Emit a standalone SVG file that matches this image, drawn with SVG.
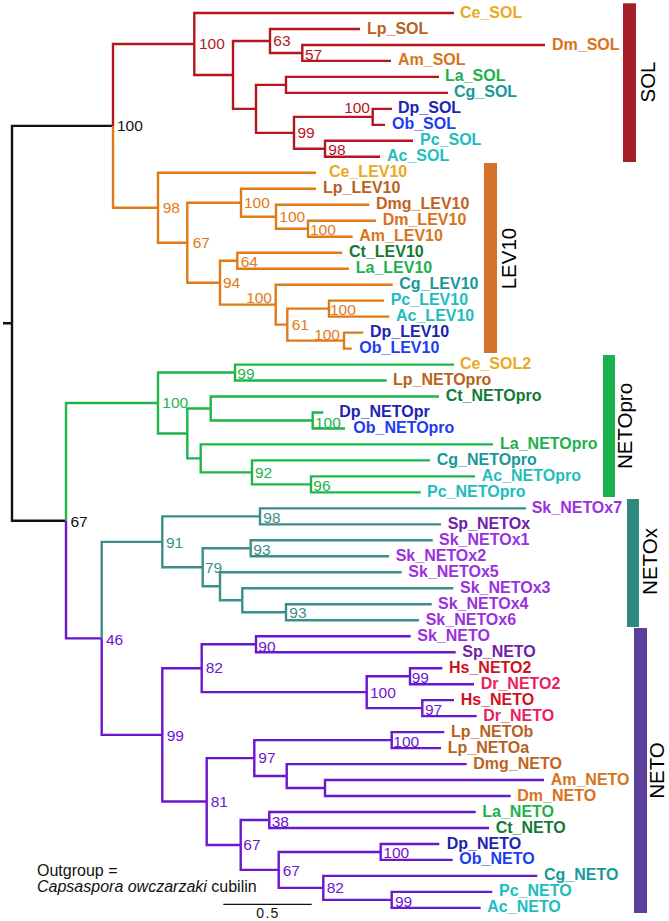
<svg xmlns="http://www.w3.org/2000/svg" width="669" height="921" viewBox="0 0 669 921">
<style>
.e{fill:none;stroke-width:2.4;stroke-linejoin:miter}
.k{stroke:#111}.r{stroke:#B5161E}.o{stroke:#E07A18}.g{stroke:#20B54A}.t{stroke:#3A9088}.p{stroke:#6B16CF}
.lf{font-family:"Liberation Sans",Arial,sans-serif;font-size:16px;font-weight:bold}
.bs{font-family:"Liberation Sans",Arial,sans-serif;font-size:15.5px}
.bk{fill:#111}.br{fill:#B5161E}.bo{fill:#E07A18}.bg{fill:#20B54A}.bt{fill:#3A9088}.bp{fill:#6B16CF}
.cl{font-family:"Liberation Sans",Arial,sans-serif;font-size:20.5px;fill:#000;text-anchor:middle}
.Ce{fill:#EBA91E}.Lp{fill:#B8621C}.Dm{fill:#D8711A}.Am{fill:#D8731A}.Dmg{fill:#C0641C}.La{fill:#1DB14B}
.Cg{fill:#17999A}.Dp{fill:#1B24B5}.Ob{fill:#1C3DF2}.Pc{fill:#20BCC0}.Ac{fill:#1FBDBD}.Ct{fill:#127A33}
.Sk{fill:#9B30E0}.Sp{fill:#6E22AA}.Hs{fill:#D0121F}.Dr{fill:#E91E63}
.tx{font-family:"Liberation Sans",Arial,sans-serif;font-size:16px;fill:#111}
</style>
<g id="connectors">
<path class="e k" d="M3 323.3H12M12 323.3V125.9H113M12 323.3V520.7H66"/>
<g class="e r">
<path d="M113 125.9V44H194.3"/>
<path d="M194.3 44V13H454M194.3 44V75H233"/>
<path d="M233 75V41H270M233 75V108.9H256"/>
<path d="M270 41V29H360M270 41V53H302.3"/>
<path d="M302.3 53V45H545M302.3 53V60.9H391"/>
<path d="M256 108.9V84.9H286M256 108.9V132.85H294"/>
<path d="M286 84.9V76.9H439M286 84.9V92.9H448"/>
<path d="M294 132.85V116.9H372.7M294 132.85V148.8H325"/>
<path d="M372.7 116.9V108.9H392M372.7 116.9V124.9H385"/>
<path d="M325 148.8V140.8H413M325 148.8V156.8H380"/>
</g>
<g class="e o">
<path d="M113 125.9V207.8H158"/>
<path d="M158 207.8V172.8H316M158 207.8V242.75H187.3"/>
<path d="M187.3 242.75V202.8H241M187.3 242.75V282.7H220"/>
<path d="M241 202.8V188.8H316M241 202.8V216.75H276"/>
<path d="M276 216.75V204.8H369.3M276 216.75V228.7H308"/>
<path d="M308 228.7V220.7H376M308 228.7V236.7H352.7"/>
<path d="M220 282.7V260.7H237.3M220 282.7V304.65H275.7"/>
<path d="M237.3 260.7V252.7H342.3M237.3 260.7V268.7H349"/>
<path d="M275.7 304.65V284.7H392.7M275.7 304.65V324.6H287.3"/>
<path d="M287.3 324.6V308.6H329M287.3 324.6V340.6H344"/>
<path d="M329 308.6V300.6H384M329 308.6V316.6H389.3"/>
<path d="M344 340.6V332.6H363.3M344 340.6V348.6H351.7"/>
</g>
<g class="e g">
<path d="M66 520.7V403H158"/>
<path d="M158 403V372.55H235M158 403V433.45H187.3"/>
<path d="M235 372.55V364.6H454M235 372.55V380.5H386.7"/>
<path d="M187.3 433.45V408.5H210.7M187.3 433.45V458.4H200.7"/>
<path d="M210.7 408.5V396.5H439M210.7 408.5V420.5H312.7"/>
<path d="M312.7 420.5V412.5H323.3M312.7 420.5V428.5H345"/>
<path d="M200.7 458.4V444.4H493M200.7 458.4V472.4H252"/>
<path d="M252 472.4V460.4H430M252 472.4V484.4H311"/>
<path d="M311 484.4V476.4H475M311 484.4V492.4H420.7"/>
</g>
<g class="e p">
<path d="M66 520.7V638.35H101.7"/>
</g>
<g class="e t">
<path d="M101.7 638.35V541.85H162.3"/>
<path d="M162.3 541.85V516.4H260M162.3 541.85V567.3H202.7"/>
<path d="M260 516.4V508.4H526M260 516.4V524.4H441"/>
<path d="M202.7 567.3V548.3H250.7M202.7 567.3V586.3H220"/>
<path d="M250.7 548.3V540.3H432.7M250.7 548.3V556.3H389"/>
<path d="M220 586.3V572.3H401.7M220 586.3V600.3H242.3"/>
<path d="M242.3 600.3V588.3H453.3M242.3 600.3V612.25H286"/>
<path d="M286 612.25V604.3H431.7M286 612.25V620.2H419"/>
</g>
<g class="e p">
<path d="M101.7 638.35V734.85H162.3"/>
<path d="M162.3 734.85V668.2H201.7M162.3 734.85V801.5H206.7"/>
<path d="M201.7 668.2V644.2H256M201.7 668.2V692.15H366.7"/>
<path d="M256 644.2V636.2H410.7M256 644.2V652.2H455.7"/>
<path d="M366.7 692.15V676.2H410M366.7 692.15V708.1H422.3"/>
<path d="M410 676.2V668.2H442.3M410 676.2V684.2H474"/>
<path d="M422.3 708.1V700.1H454M422.3 708.1V716.1H476.7"/>
<path d="M206.7 801.5V758.1H254.3M206.7 801.5V844.95H240.7"/>
<path d="M254.3 758.1V740.1H391.7M254.3 758.1V776.05H286.7"/>
<path d="M391.7 740.1V732.1H444.3M391.7 740.1V748.1H441"/>
<path d="M286.7 776.05V764.1H466.7M286.7 776.05V788H325"/>
<path d="M325 788V780H544M325 788V796H510.7"/>
<path d="M240.7 844.95V820H269.3M240.7 844.95V869.9H278.7"/>
<path d="M269.3 820V812H475.7M269.3 820V828H489"/>
<path d="M278.7 869.9V851.95H380.7M278.7 869.9V887.9H323.3"/>
<path d="M380.7 851.95V844H439.3M380.7 851.95V859.9H452.7"/>
<path d="M323.3 887.9V875.9H537.3M323.3 887.9V899.9H391.7"/>
<path d="M391.7 899.9V891.9H492.3M391.7 899.9V907.9H480.7"/>
</g>
</g>
<g id="support" class="bs">
<text class="bk" x="117" y="131">100</text>
<text class="bk" x="70.5" y="526.5">67</text>
<text class="br" x="199" y="48.5">100</text>
<text class="br" x="273.3" y="46">63</text>
<text class="br" x="305" y="60">57</text>
<text class="br" x="297.5" y="138.3">99</text>
<text class="br" x="328.3" y="155">98</text>
<text class="br" x="370" y="113.3" text-anchor="end">100</text>
<text class="bo" x="162.7" y="213">98</text>
<text class="bo" x="244" y="208">100</text>
<text class="bo" x="279.3" y="221.7">100</text>
<text class="bo" x="310" y="235">100</text>
<text class="bo" x="192.7" y="247.5">67</text>
<text class="bo" x="240.7" y="266.5">64</text>
<text class="bo" x="223" y="288">94</text>
<text class="bo" x="272" y="303" text-anchor="end">100</text>
<text class="bo" x="291.7" y="330">61</text>
<text class="bo" x="330" y="315">100</text>
<text class="bo" x="340" y="340" text-anchor="end">100</text>
<text class="bg" x="162.3" y="408.3">100</text>
<text class="bg" x="237.3" y="379">99</text>
<text class="bg" x="315" y="428.3">100</text>
<text class="bg" x="255" y="477.7">92</text>
<text class="bg" x="313.3" y="491">96</text>
<text class="bt" x="263.3" y="523.3">98</text>
<text class="bt" x="166" y="547.5">91</text>
<text class="bt" x="253.3" y="555">93</text>
<text class="bt" x="205" y="572.7">79</text>
<text class="bt" x="289.3" y="618.3">93</text>
<text class="bp" x="106" y="645">46</text>
<text class="bp" x="258.3" y="651.7">90</text>
<text class="bp" x="205.7" y="673.3">82</text>
<text class="bp" x="411.7" y="683.3">99</text>
<text class="bp" x="370" y="698.3">100</text>
<text class="bp" x="425" y="715">97</text>
<text class="bp" x="166.7" y="740.7">99</text>
<text class="bp" x="393.3" y="746.7">100</text>
<text class="bp" x="258.3" y="763.3">97</text>
<text class="bp" x="210.7" y="807">81</text>
<text class="bp" x="271.7" y="826.7">38</text>
<text class="bp" x="243.3" y="850">67</text>
<text class="bp" x="282.7" y="875.7">67</text>
<text class="bp" x="326.7" y="893.3">82</text>
<text class="bp" x="383.3" y="858.3">100</text>
<text class="bp" x="395" y="906.7">99</text>
</g>
<g id="leaves" class="lf">
<g id="Ce_SOL"><text class="Ce" x="460" y="17.5">Ce_SOL</text></g>
<g id="Lp_SOL"><text class="Lp" x="367" y="33.5">Lp_SOL</text></g>
<g id="Dm_SOL"><text class="Dm" x="552" y="49.5">Dm_SOL</text></g>
<g id="Am_SOL"><text class="Am" x="398" y="65.4">Am_SOL</text></g>
<g id="La_SOL"><text class="La" x="445" y="81.4">La_SOL</text></g>
<g id="Cg_SOL"><text class="Cg" x="454" y="97.4">Cg_SOL</text></g>
<g id="Dp_SOL"><text class="Dp" x="398" y="113.4">Dp_SOL</text></g>
<g id="Ob_SOL"><text class="Ob" x="392" y="129.4">Ob_SOL</text></g>
<g id="Pc_SOL"><text class="Pc" x="420" y="145.3">Pc_SOL</text></g>
<g id="Ac_SOL"><text class="Ac" x="387" y="161.3">Ac_SOL</text></g>
<g id="Ce_LEV10"><text class="Ce" x="329" y="177.3">Ce_LEV10</text></g>
<g id="Lp_LEV10"><text class="Lp" x="323" y="193.3">Lp_LEV10</text></g>
<g id="Dmg_LEV10"><text class="Dmg" x="376" y="209.3">Dmg_LEV10</text></g>
<g id="Dm_LEV10"><text class="Dm" x="382.7" y="225.2">Dm_LEV10</text></g>
<g id="Am_LEV10"><text class="Am" x="359.3" y="241.2">Am_LEV10</text></g>
<g id="Ct_LEV10"><text class="Ct" x="349" y="257.2">Ct_LEV10</text></g>
<g id="La_LEV10"><text class="La" x="355.7" y="273.2">La_LEV10</text></g>
<g id="Cg_LEV10"><text class="Cg" x="399.3" y="289.2">Cg_LEV10</text></g>
<g id="Pc_LEV10"><text class="Pc" x="390.7" y="305.1">Pc_LEV10</text></g>
<g id="Ac_LEV10"><text class="Ac" x="396" y="321.1">Ac_LEV10</text></g>
<g id="Dp_LEV10"><text class="Dp" x="370" y="337.1">Dp_LEV10</text></g>
<g id="Ob_LEV10"><text class="Ob" x="359.3" y="353.1">Ob_LEV10</text></g>
<g id="Ce_SOL2"><text class="Ce" x="460" y="369.1">Ce_SOL2</text></g>
<g id="Lp_NETOpro"><text class="Lp" x="393" y="385">Lp_NETOpro</text></g>
<g id="Ct_NETOpro"><text class="Ct" x="445.7" y="401">Ct_NETOpro</text></g>
<g id="Dp_NETOpr"><text class="Dp" x="339.3" y="417">Dp_NETOpr</text></g>
<g id="Ob_NETOpro"><text class="Ob" x="353.3" y="433">Ob_NETOpro</text></g>
<g id="La_NETOpro"><text class="La" x="500" y="448.9">La_NETOpro</text></g>
<g id="Cg_NETOpro"><text class="Cg" x="436.7" y="464.9">Cg_NETOpro</text></g>
<g id="Ac_NETOpro"><text class="Ac" x="481.7" y="480.9">Ac_NETOpro</text></g>
<g id="Pc_NETOpro"><text class="Pc" x="427" y="496.9">Pc_NETOpro</text></g>
<g id="Sk_NETOx7"><text class="Sk" x="531.7" y="512.9">Sk_NETOx7</text></g>
<g id="Sp_NETOx"><text class="Sp" x="447.7" y="528.9">Sp_NETOx</text></g>
<g id="Sk_NETOx1"><text class="Sk" x="439" y="544.8">Sk_NETOx1</text></g>
<g id="Sk_NETOx2"><text class="Sk" x="395.7" y="560.8">Sk_NETOx2</text></g>
<g id="Sk_NETOx5"><text class="Sk" x="408.3" y="576.8">Sk_NETOx5</text></g>
<g id="Sk_NETOx3"><text class="Sk" x="460" y="592.8">Sk_NETOx3</text></g>
<g id="Sk_NETOx4"><text class="Sk" x="438" y="608.8">Sk_NETOx4</text></g>
<g id="Sk_NETOx6"><text class="Sk" x="425.7" y="624.7">Sk_NETOx6</text></g>
<g id="Sk_NETO"><text class="Sk" x="417.3" y="640.7">Sk_NETO</text></g>
<g id="Sp_NETO"><text class="Sp" x="462.3" y="656.7">Sp_NETO</text></g>
<g id="Hs_NETO2"><text class="Hs" x="449" y="672.7">Hs_NETO2</text></g>
<g id="Dr_NETO2"><text class="Dr" x="480.7" y="688.7">Dr_NETO2</text></g>
<g id="Hs_NETO"><text class="Hs" x="460.7" y="704.6">Hs_NETO</text></g>
<g id="Dr_NETO"><text class="Dr" x="483.3" y="720.6">Dr_NETO</text></g>
<g id="Lp_NETOb"><text class="Lp" x="451" y="736.6">Lp_NETOb</text></g>
<g id="Lp_NETOa"><text class="Lp" x="447.7" y="752.6">Lp_NETOa</text></g>
<g id="Dmg_NETO"><text class="Dmg" x="473.3" y="768.6">Dmg_NETO</text></g>
<g id="Am_NETO"><text class="Am" x="550.7" y="784.5">Am_NETO</text></g>
<g id="Dm_NETO"><text class="Dm" x="517.3" y="800.5">Dm_NETO</text></g>
<g id="La_NETO"><text class="La" x="482.3" y="816.5">La_NETO</text></g>
<g id="Ct_NETO"><text class="Ct" x="495.7" y="832.5">Ct_NETO</text></g>
<g id="Dp_NETO"><text class="Dp" x="446.7" y="848.5">Dp_NETO</text></g>
<g id="Ob_NETO"><text class="Ob" x="459.3" y="864.4">Ob_NETO</text></g>
<g id="Cg_NETO"><text class="Cg" x="544" y="880.4">Cg_NETO</text></g>
<g id="Pc_NETO"><text class="Pc" x="499" y="896.4">Pc_NETO</text></g>
<g id="Ac_NETO"><text class="Ac" x="487.3" y="912.4">Ac_NETO</text></g>
</g>
<g id="clade-SOL"><rect x="623" y="3.3" width="13" height="158.7" fill="#A71E2A"/><text class="cl" transform="translate(654.5,82) rotate(-90)">SOL</text></g>
<g id="clade-LEV10"><rect x="484" y="163" width="13" height="190" fill="#D5722C"/><text class="cl" transform="translate(516.3,258.5) rotate(-90)">LEV10</text></g>
<g id="clade-NETOpro"><rect x="603" y="355" width="12" height="142" fill="#19B24C"/><text class="cl" transform="translate(632,426) rotate(-90)">NETOpro</text></g>
<g id="clade-NETOx"><rect x="627" y="499" width="12" height="128" fill="#2E8A7E"/><text class="cl" transform="translate(657.3,561.5) rotate(-90)">NETOx</text></g>
<g id="clade-NETO"><rect x="634" y="628" width="13" height="285" fill="#5C3F9C"/><text class="cl" transform="translate(664.3,770.5) rotate(-90)">NETO</text></g>
<g id="outgroup-note">
<text class="tx" x="37" y="876">Outgroup =</text>
<text class="tx" x="37" y="892"><tspan font-style="italic">Capsaspora owczarzaki</tspan> cubilin</text>
</g>
<g id="scale-bar">
<path d="M223.3 904.3H311.7" stroke="#111" stroke-width="1.2" fill="none"/>
<text x="268" y="917.7" text-anchor="middle" style="font-family:'Liberation Sans',Arial,sans-serif;font-size:14px;letter-spacing:1.3px;fill:#111">0.5</text>
</g>
</svg>
